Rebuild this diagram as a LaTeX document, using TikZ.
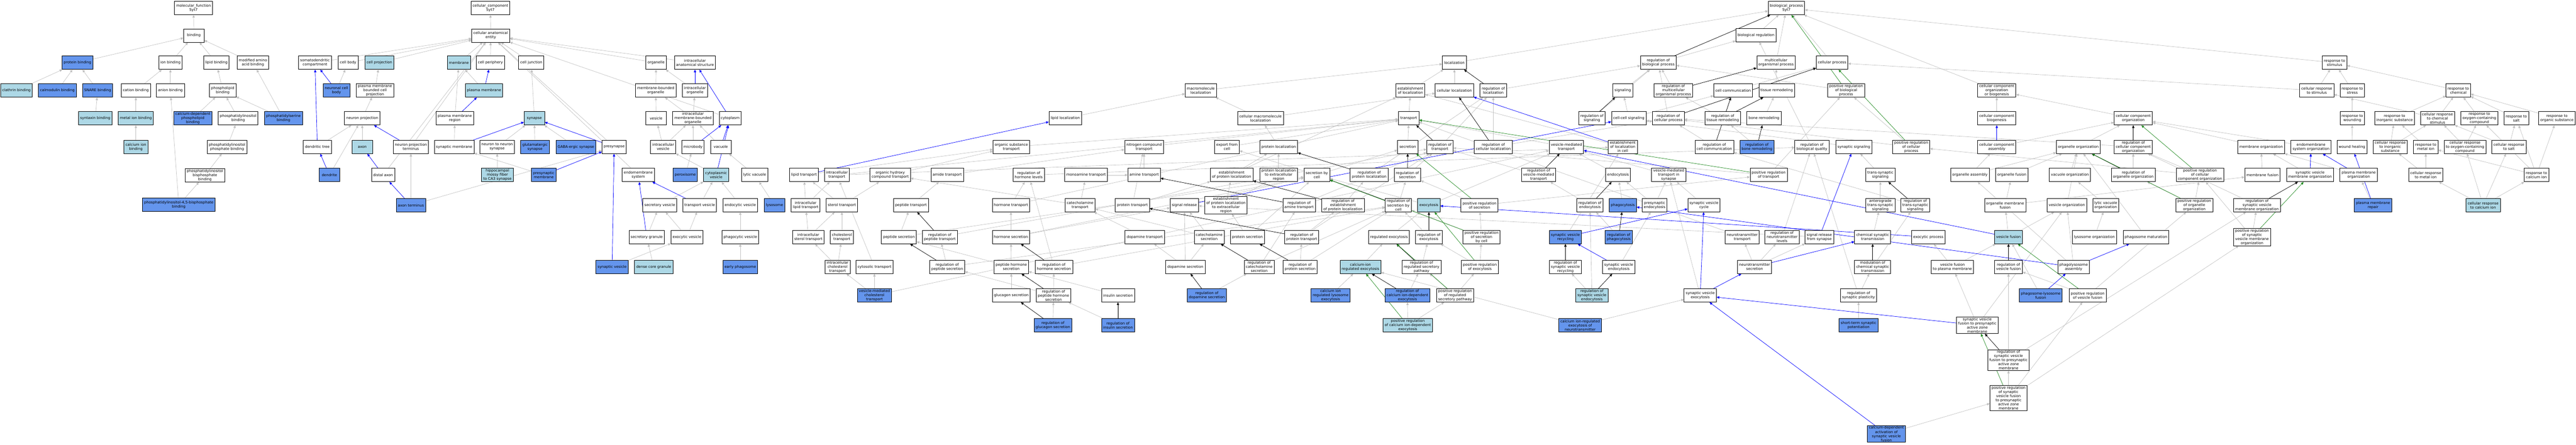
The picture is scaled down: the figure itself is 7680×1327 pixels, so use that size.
\documentclass[tikz,border=0pt]{standalone}
\usepackage{fontspec}
\setmainfont{DejaVu Sans}
\usetikzlibrary{arrows.meta}
\definecolor{cfb}{HTML}{6495ED}
\definecolor{lbl}{HTML}{ADD8E6}
\definecolor{egr}{HTML}{C0C0C0}
\definecolor{fgr}{HTML}{228B22}
\pgfdeclarelayer{bgzero}
\pgfdeclarelayer{edgelayer}
\pgfsetlayers{bgzero,edgelayer,main}
\tikzset{
 bw/.style={draw=black, line width=0.6pt, rectangle, align=center, fill=white,
   font=\fontsize{5.4pt}{6.2pt}\selectfont, inner xsep=2.5pt, inner ysep=1pt,
   minimum width=30.5pt, minimum height=20pt},
 bd/.style={bw, fill=cfb},
 bl/.style={bw, fill=lbl},
 eg/.style={draw=egr, line width=0.5pt, -{Triangle[length=4pt,width=3.6pt]}},
 eb/.style={eg, draw=blue, fill=blue},
 ek/.style={eg, draw=black, fill=black},
 ev/.style={eg, draw=fgr, fill=fgr}
}
\begin{document}
\begin{tikzpicture}[x=0.5pt,y=-0.5pt]
\useasboundingbox (0,0) rectangle (7680,1327);
\begin{pgfonlayer}{bgzero}
\fill[white] (0,0) rectangle (7680,1327);
\end{pgfonlayer}
% ---------------- molecular function
\node[bw] (mf) at (577,24) {molecular\_function\\Syt7};
\node[bw] (bind) at (578,106) {binding};
\node[bd] (protb) at (231,187) {protein binding};
\node[bw] (ionb) at (508,187) {ion binding};
\node[bw] (lipb) at (645,187) {lipid binding};
\node[bw] (modaa) at (754,187) {modified amino\\acid binding};
\node[bl] (clath) at (49,270) {clathrin binding};
\node[bd] (calmod) at (171,270) {calmodulin binding};
\node[bd] (snare) at (291,270) {SNARE binding};
\node[bw] (cation) at (405,270) {cation binding};
\node[bw] (anion) at (508,270) {anion binding};
\node[bw] (phlip) at (664,270) {phospholipid\\binding};
\node[bl] (syntax) at (284,353) {syntaxin binding};
\node[bl] (metal) at (405,353) {metal ion binding};
\node[bd] (cadpl) at (575,353) {calcium-dependent\\phospholipid\\binding};
\node[bw] (pib) at (710,353) {phosphatidylinositol\\binding};
\node[bd] (psb) at (845,353) {phosphatidylserine\\binding};
\node[bl] (caion) at (405,438) {calcium ion\\binding};
\node[bw] (pipb) at (677,438) {phosphatidylinositol\\phosphate binding};
\node[bw] (pibpb) at (611,523) {phosphatidylinositol\\bisphosphate\\binding};
\node[bd] (pip2) at (533,611) {phosphatidylinositol-4,5-bisphosphate\\binding};
% ---------------- cellular component
\node[bw] (cc) at (1462,24) {cellular\_component\\Syt7};
\node[bw] (cae) at (1463,106) {cellular anatomical\\entity};
\node[bw] (somat) at (939,187) {somatodendritic\\compartment};
\node[bw] (cbody) at (1038,187) {cell body};
\node[bl] (cproj) at (1131,187) {cell projection};
\node[bl] (memb) at (1368,187) {membrane};
\node[bw] (cperi) at (1462,187) {cell periphery};
\node[bw] (cjunc) at (1584,187) {cell junction};
\node[bw] (organelle) at (1956,187) {organelle};
\node[bw] (ias) at (2072,187) {intracellular\\anatomical structure};
\node[bd] (ncb) at (1003,270) {neuronal cell\\body};
\node[bw] (pmbcp) at (1118,270) {plasma membrane\\bounded cell\\projection};
\node[bl] (pm) at (1443,270) {plasma membrane};
\node[bw] (mbo) at (1955,270) {membrane-bounded\\organelle};
\node[bw] (io) at (2072,270) {intracellular\\organelle};
\node[bw] (nproj) at (1080,353) {neuron projection};
\node[bw] (pmr) at (1356,353) {plasma membrane\\region};
\node[bl] (synapse) at (1593,353) {synapse};
\node[bw] (vesicle) at (1956,353) {vesicle};
\node[bw] (imbo) at (2066,353) {intracellular\\membrane-bounded\\organelle};
\node[bw] (cyto) at (2177,353) {cytoplasm};
\node[bw] (dtree) at (946,438) {dendritic tree};
\node[bl] (axon) at (1080,438) {axon};
\node[bw] (npt) at (1225,438) {neuron projection\\terminus};
\node[bw] (synm) at (1354,438) {synaptic membrane};
\node[bw] (n2n) at (1482,438) {neuron to neuron\\synapse};
\node[bd] (glut) at (1595,438) {glutamatergic\\synapse};
\node[bd] (gaba) at (1717,438) {GABA-ergic synapse};
\node[bw] (presyn) at (1831,438) {presynapse};
\node[bw] (iv) at (1977,438) {intracellular\\vesicle};
\node[bw] (microbody) at (2066,438) {microbody};
\node[bw] (vacuole) at (2149,438) {vacuole};
\node[bd] (dendrite) at (982,522) {dendrite};
\node[bw] (daxon) at (1142,522) {distal axon};
\node[bl] (mossy) at (1483,522) {hippocampal\\mossy fiber\\to CA3 synapse};
\node[bd] (presm) at (1621,522) {presynaptic\\membrane};
\node[bw] (endos) at (1903,522) {endomembrane\\system};
\node[bd] (perox) at (2043,522) {peroxisome};
\node[bl] (cytv) at (2135,522) {cytoplasmic\\vesicle};
\node[bw] (lytvac) at (2250,522) {lytic vacuole};
\node[bd] (axterm) at (1225,612) {axon terminus};
\node[bw] (secv) at (1967,612) {secretory vesicle};
\node[bw] (transv) at (2086,612) {transport vesicle};
\node[bw] (endov) at (2207,612) {endocytic vesicle};
\node[bd] (lysosome) at (2309,612) {lysosome};
\node[bw] (secg) at (1928,707) {secretory granule};
\node[bw] (exov) at (2048,707) {exocytic vesicle};
\node[bw] (phagv) at (2207,707) {phagocytic vesicle};
\node[bd] (synv) at (1825,796) {synaptic vesicle};
\node[bl] (dcg) at (1949,796) {dense core granule};
\node[bd] (earlyp) at (2207,796) {early phagosome};
% ---------------- transport region
\node[bw] (lipt) at (2397,522) {lipid transport};
\node[bw] (ict) at (2495,522) {intracellular\\transport};
\node[bw] (iclt) at (2402,612) {intracellular\\lipid transport};
\node[bw] (sterolt) at (2510,612) {sterol transport};
\node[bw] (icst) at (2410,707) {intracellular\\sterol transport};
\node[bw] (cholt) at (2510,707) {cholesterol\\transport};
\node[bw] (iccht) at (2497,796) {intracellular\\cholesterol\\transport};
\node[bw] (cytt) at (2607,796) {cytosolic transport};
\node[bd] (vmct) at (2607,881) {vesicle-mediated\\cholesterol\\transport};
\node[bw] (lipl) at (3176,353) {lipid localization};
\node[bw] (ost) at (3015,438) {organic substance\\transport};
\node[bw] (ohct) at (2654,522) {organic hydroxy\\compound transport};
\node[bw] (amidet) at (2824,522) {amide transport};
\node[bw] (rhl) at (3067,522) {regulation of\\hormone levels};
\node[bw] (monot) at (3238,522) {monoamine transport};
\node[bw] (peptt) at (2716,612) {peptide transport};
\node[bw] (hormt) at (3014,612) {hormone transport};
\node[bw] (catt) at (3220,612) {catecholamine\\transport};
\node[bw] (pepts) at (2680,707) {peptide secretion};
\node[bw] (rpt) at (2802,707) {regulation of\\peptide transport};
\node[bw] (horms) at (3014,707) {hormone secretion};
\node[bw] (rps) at (2824,796) {regulation of\\peptide secretion};
\node[bw] (phs) at (3015,796) {peptide hormone\\secretion};
\node[bw] (rhs) at (3142,796) {regulation of\\hormone secretion};
\node[bw] (glucs) at (3015,881) {glucagon secretion};
\node[bw] (rphs) at (3141,881) {regulation of\\peptide hormone\\secretion};
\node[bd] (rglucs) at (3139,970) {regulation of\\glucagon secretion};
\node[bw] (macl) at (3580,270) {macromolecule\\localization};
\node[bw] (cmacl) at (3758,353) {cellular macromolecule\\localization};
\node[bw] (nct) at (3411,438) {nitrogen compound\\transport};
\node[bw] (expc) at (3658,438) {export from\\cell};
\node[bw] (protl) at (3812,438) {protein localization};
\node[bw] (amt) at (3411,522) {amine transport};
\node[bw] (epl) at (3672,522) {establishment\\of protein localization};
\node[bw] (pler) at (3812,522) {protein localization\\to extracellular\\region};
\node[bw] (prott) at (3376,612) {protein transport};
\node[bw] (sigrel) at (3531,612) {signal release};
\node[bw] (eper) at (3655,612) {establishment\\of protein localization\\to extracellular\\region};
\node[bw] (ramt) at (3873,612) {regulation of\\amine transport};
\node[bw] (dopt) at (3413,707) {dopamine transport};
\node[bw] (cats) at (3605,707) {catecholamine\\secretion};
\node[bw] (prots) at (3719,707) {protein secretion};
\node[bw] (rprott) at (3881,707) {regulation of\\protein transport};
\node[bw] (dops) at (3534,796) {dopamine secretion};
\node[bw] (rcats) at (3754,796) {regulation of\\catecholamine\\secretion};
\node[bw] (rprots) at (3876,796) {regulation of\\protein secretion};
\node[bw] (inss) at (3333,881) {insulin secretion};
\node[bd] (rdops) at (3598,881) {regulation of\\dopamine secretion};
\node[bd] (rinss) at (3333,970) {regulation of\\insulin secretion};
\node[bw] (loc) at (4336,187) {localization};
\node[bw] (estl) at (4205,270) {establishment\\of localization};
\node[bw] (cloc) at (4336,270) {cellular localization};
\node[bw] (rloc) at (4452,270) {regulation of\\localization};
\node[bw] (transport) at (4200,353) {transport};
\node[bw] (secretion) at (4197,438) {secretion};
\node[bw] (rtrans) at (4293,438) {regulation of\\transport};
\node[bw] (rcloc) at (4452,438) {regulation of\\cellular localization};
\node[bw] (secbc) at (3926,522) {secretion by\\cell};
\node[bw] (rprotl) at (4082,522) {regulation of\\protein localization};
\node[bw] (rsec) at (4196,522) {regulation of\\secretion};
\node[bw] (repl) at (4004,612) {regulation of\\establishment\\of protein localization};
\node[bw] (rsecbc) at (4169,612) {regulation of\\secretion by\\cell};
\node[bl] (exocytosis) at (4260,612) {exocytosis};
\node[bw] (prsec) at (4411,612) {positive regulation\\of secretion};
\node[bw] (regexo) at (4141,707) {regulated exocytosis};
\node[bw] (rexo) at (4260,707) {regulation of\\exocytosis};
\node[bw] (prsecbc) at (4417,707) {positive regulation\\of secretion\\by cell};
\node[bl] (caexo) at (4056,796) {calcium-ion\\regulated exocytosis};
\node[bw] (rrsp) at (4238,796) {regulation of\\regulated secretory\\pathway};
\node[bw] (prexo) at (4412,796) {positive regulation\\of exocytosis};
\node[bd] (calyso) at (3967,881) {calcium ion\\regulated lysosome\\exocytosis};
\node[bd] (rcade) at (4196,881) {regulation of\\calcium ion-dependent\\exocytosis};
\node[bw] (prrsp) at (4338,881) {positive regulation\\of regulated\\secretory pathway};
\node[bl] (prcade) at (4197,970) {positive regulation\\of calcium ion-dependent\\exocytosis};
% ---------------- signaling etc
\node[bw] (rbp) at (4944,187) {regulation of\\biological process};
\node[bw] (signaling) at (4838,270) {signaling};
\node[bw] (rmop) at (4989,270) {regulation of\\multicellular\\organismal process};
\node[bw] (ccomm) at (5167,270) {cell communication};
\node[bw] (rsig) at (4746,353) {regulation of\\signaling};
\node[bw] (ccsig) at (4856,353) {cell-cell signaling};
\node[bw] (rcp) at (4974,353) {regulation of\\cellular process};
\node[bw] (rtr) at (5136,353) {regulation of\\tissue remodeling};
\node[bw] (vmt) at (4670,438) {vesicle-mediated\\transport};
\node[bw] (elc) at (4838,438) {establishment\\of localization\\in cell};
\node[bw] (rcc) at (5111,438) {regulation of\\cell communication};
\node[bw] (rvmt) at (4587,522) {regulation of\\vesicle-mediated\\transport};
\node[bw] (endocytosis) at (4824,522) {endocytosis};
\node[bw] (vmts) at (4975,522) {vesicle-mediated\\transport in\\synapse};
\node[bw] (rendo) at (4740,612) {regulation of\\endocytosis};
\node[bd] (phago) at (4838,612) {phagocytosis};
\node[bw] (pse) at (4933,612) {presynaptic\\endocytosis};
\node[bw] (svc) at (5080,612) {synaptic vesicle\\cycle};
\node[bd] (svr) at (4667,707) {synaptic vesicle\\recycling};
\node[bd] (rphago) at (4826,707) {regulation of\\phagocytosis};
\node[bw] (rsvr) at (4667,796) {regulation of\\synaptic vesicle\\recycling};
\node[bw] (sve) at (4826,796) {synaptic vesicle\\endocytosis};
\node[bl] (rsve) at (4746,881) {regulation of\\synaptic vesicle\\endocytosis};
\node[bw] (svexo) at (5069,881) {synaptic vesicle\\exocytosis};
\node[bd] (cirent) at (4711,970) {calcium ion-regulated\\exocytosis of\\neurotransmitter};
\node[bw] (bp) at (5326,24) {biological\_process\\Syt7};
\node[bw] (breg) at (5235,105) {biological regulation};
\node[bw] (mop) at (5295,187) {multicellular\\organismal process};
\node[bw] (cellp) at (5462,187) {cellular process};
\node[bw] (tissr) at (5297,270) {tissue remodeling};
\node[bw] (prbp) at (5504,270) {positive regulation\\of biological\\process};
\node[bw] (boner) at (5259,353) {bone remodeling};
\node[bd] (rboner) at (5238,438) {regulation of\\bone remodeling};
\node[bw] (rbq) at (5402,438) {regulation of\\biological quality};
\node[bw] (synsig) at (5527,438) {synaptic signaling};
\node[bw] (prcp) at (5698,438) {positive regulation\\of cellular\\process};
\node[bw] (prtrans) at (5273,522) {positive regulation\\of transport};
\node[bw] (tss) at (5606,522) {trans-synaptic\\signaling};
\node[bw] (atss) at (5606,612) {anterograde\\trans-synaptic\\signaling};
\node[bw] (rtss) at (5710,612) {regulation of\\trans-synaptic\\signaling};
\node[bw] (ntt) at (5194,707) {neurotransmitter\\transport};
\node[bw] (rntl) at (5313,707) {regulation of\\neurotransmitter\\levels};
\node[bw] (srfs) at (5424,707) {signal release\\from synapse};
\node[bw] (cst) at (5583,707) {chemical synaptic\\transmission};
\node[bw] (exop) at (5749,707) {exocytic process};
\node[bw] (nts) at (5231,796) {neurotransmitter\\secretion};
\node[bw] (mcst) at (5583,796) {modulation of\\chemical synaptic\\transmission};
\node[bw] (rsp) at (5541,881) {regulation of\\synaptic plasticity};
\node[bd] (stsp) at (5541,970) {short-term synaptic\\potentiation};
\node[bd] (cdasvf) at (5624,1294) {calcium-dependent\\activation of\\synaptic vesicle\\fusion};
% ---------------- organization
\node[bw] (ccoob) at (5953,270) {cellular component\\organization\\or biogenesis};
\node[bw] (ccb) at (5953,353) {cellular component\\biogenesis};
\node[bw] (cco) at (6360,353) {cellular component\\organization};
\node[bw] (cca) at (5953,438) {cellular component\\assembly};
\node[bw] (oo) at (6196,438) {organelle organization};
\node[bw] (rcco) at (6360,438) {regulation of\\cellular component\\organization};
\node[bw] (oa) at (5873,522) {organelle assembly};
\node[bw] (ofus) at (5998,522) {organelle fusion};
\node[bw] (vo) at (6171,522) {vacuole organization};
\node[bw] (roo) at (6360,522) {regulation of\\organelle organization};
\node[bw] (omf) at (5978,612) {organelle membrane\\fusion};
\node[bw] (vesorg) at (6162,612) {vesicle organization};
\node[bw] (lvo) at (6278,612) {lytic vacuole\\organization};
\node[bl] (vf) at (5988,707) {vesicle fusion};
\node[bw] (lyso) at (6244,707) {lysosome organization};
\node[bw] (phm) at (6398,707) {phagosome maturation};
\node[bw] (vfpm) at (5821,796) {vesicle fusion\\to plasma membrane};
\node[bw] (rvf) at (5988,796) {regulation of\\vesicle fusion};
\node[bw] (pla) at (6182,796) {phagolysosome\\assembly};
\node[bd] (plf) at (6084,881) {phagosome-lysosome\\fusion};
\node[bw] (prvf) at (6224,881) {positive regulation\\of vesicle fusion};
\node[bw] (svf) at (5895,970) {synaptic vesicle\\fusion to presynaptic\\active zone\\membrane};
\node[bw] (rsvf) at (5988,1074) {regulation of\\synaptic vesicle\\fusion to presynaptic\\active zone\\membrane};
\node[bw] (prsvf) at (5988,1187) {positive regulation\\of synaptic\\vesicle fusion\\to presynaptic\\active zone\\membrane};
% ---------------- response
\node[bw] (rstim) at (6960,187) {response to\\stimulus};
\node[bw] (crstim) at (6907,270) {cellular response\\to stimulus};
\node[bw] (rstress) at (7013,270) {response to\\stress};
\node[bw] (rwound) at (7013,353) {response to\\wounding};
\node[bw] (memorg) at (6741,438) {membrane organization};
\node[bw] (eso) at (6890,438) {endomembrane\\system organization};
\node[bw] (wheal) at (7012,438) {wound healing};
\node[bw] (prcco) at (6559,522) {positive regulation\\of cellular\\component organization};
\node[bw] (memfus) at (6745,522) {membrane fusion};
\node[bw] (svmo) at (6887,522) {synaptic vesicle\\membrane organization};
\node[bw] (pmo) at (7032,522) {plasma membrane\\organization};
\node[bw] (proo) at (6542,612) {positive regulation\\of organelle\\organization};
\node[bw] (rsvmo) at (6729,612) {regulation of\\synaptic vesicle\\membrane organization};
\node[bd] (pmrep) at (7075,612) {plasma membrane\\repair};
\node[bw] (prsvmo) at (6714,707) {positive regulation\\of synaptic\\vesicle membrane\\organization};
\node[bw] (rchem) at (7329,270) {response to\\chemical};
\node[bw] (rinorg) at (7139,353) {response to\\inorganic substance};
\node[bw] (crchem) at (7267,353) {cellular response\\to chemical\\stimulus};
\node[bw] (roxy) at (7392,353) {response to\\oxygen-containing\\compound};
\node[bw] (rsalt) at (7502,353) {response to\\salt};
\node[bw] (rorg) at (7623,353) {response to\\organic substance};
\node[bw] (crinorg) at (7126,438) {cellular response\\to inorganic\\substance};
\node[bw] (rmetal) at (7232,438) {response to\\metal ion};
\node[bw] (croxy) at (7349,438) {cellular response\\to oxygen-containing\\compound};
\node[bw] (crsalt) at (7480,438) {cellular response\\to salt};
\node[bw] (crmetal) at (7232,522) {cellular response\\to metal ion};
\node[bw] (rcaion) at (7562,522) {response to\\calcium ion};
\node[bl] (crcaion) at (7403,612) {cellular response\\to calcium ion};
% ---------------- edges
\begin{pgfonlayer}{edgelayer}
\foreach \a/\b in {bind/mf, protb/bind, ionb/bind, lipb/bind, modaa/bind, clath/protb, calmod/protb, snare/protb, syntax/snare, cation/ionb, anion/ionb, metal/cation, caion/metal, phlip/lipb, cadpl/phlip, pib/phlip, psb/phlip, psb/modaa, pipb/pib, pibpb/pipb, pip2/pibpb, pip2/anion,
cae/cc, somat/cae, cbody/cae, cproj/cae, memb/cae, cperi/cae, cjunc/cae, organelle/cae, ias/cae, cyto/cae, presyn/cae, endos/cae, npt/cae, daxon/cae,
ncb/cbody, pmbcp/cproj, nproj/pmbcp, dtree/nproj, axon/nproj, dendrite/nproj, axterm/npt, axterm/presyn, pm/memb, pmr/memb, synapse/cjunc, synm/pmr, n2n/synapse, glut/synapse, gaba/synapse, mossy/n2n, presm/synm, synv/exov, mbo/organelle, io/organelle, vesicle/mbo, imbo/mbo, imbo/io, iv/vesicle, iv/imbo, microbody/imbo, vacuole/imbo, perox/microbody, cytv/iv, lytvac/vacuole, secv/cytv, transv/cytv, endov/cytv, lysosome/lytvac, secg/secv, exov/secv, exov/transv, phagv/endov, earlyp/phagv, dcg/secg,
lipt/ost, ict/transport, ict/elc, iclt/lipt, iclt/ict, sterolt/lipt, sterolt/ohct, icst/iclt, icst/sterolt, cholt/sterolt, iccht/icst, iccht/cholt, cytt/ict, vmct/iccht, vmct/cytt, vmct/vmt, lipl/macl, ost/transport, ohct/ost, amidet/nct, rhl/rbq, monot/amt, peptt/amidet, hormt/rhl, hormt/transport, catt/monot, catt/ohct, pepts/peptt, pepts/secbc, rpt/rtrans, horms/hormt, horms/sigrel, horms/secbc, rps/rpt, rps/rsecbc, phs/horms, phs/pepts, rhs/rhl, rhs/rsecbc, glucs/phs, rphs/rhs, rphs/rps, rglucs/rphs, macl/loc, cmacl/macl, cmacl/cloc, nct/transport, expc/transport, protl/cmacl, amt/nct, epl/protl, epl/estl, pler/protl, prott/nct, prott/epl, sigrel/secbc, eper/epl, eper/pler, ramt/rtrans, dopt/catt, cats/catt, cats/sigrel, prots/eper, prots/secbc, rprott/rtrans, rprott/repl, dops/dopt, dops/cats, dops/sigrel, rcats/rsecbc, rcats/ramt, rprots/rprott, rprots/rsecbc, inss/phs, rdops/rcats, rinss/rphs,
loc/bp, estl/loc, cloc/loc, rloc/rbp, transport/estl, secretion/transport, rtrans/rloc, rcloc/rloc, rcloc/rcp, secbc/secretion, secbc/expc, rprotl/rloc, rsec/rtrans, repl/rprotl, rsecbc/rsec, exocytosis/secbc, exocytosis/vmt, prsec/rsec, prsec/prtrans, regexo/exocytosis, rexo/rsecbc, prsecbc/prsec, prsecbc/rsecbc, caexo/regexo, rrsp/rexo, prexo/rexo, prexo/prsecbc, calyso/caexo, rcade/rrsp, prrsp/rrsp, prrsp/prexo, prcade/rcade, prcade/prrsp,
rbp/breg, signaling/rbp, rmop/rbp, ccomm/cellp, rsig/rbp, ccsig/signaling, ccsig/ccomm, rcp/rbp, rtr/rmop, vmt/transport, elc/estl, rcc/rcp, rvmt/rtrans, endocytosis/vmt, vmts/vmt, rendo/rvmt, phago/endocytosis, pse/endocytosis, pse/vmts, svc/vmts, svr/elc, rphago/rendo, sve/pse, rsve/rsvr, rsve/rendo, svexo/vmts, cirent/svexo, cirent/caexo,
breg/bp, mop/bp, cellp/bp, tissr/mop, prbp/rbp, boner/tissr, rboner/rtr, rbq/breg, synsig/ccsig, prcp/prbp, prcp/rcp, prtrans/rtrans, prtrans/prbp, tss/synsig, atss/tss, rtss/rcc, ntt/transport, rntl/rbq, srfs/sigrel, cst/atss, nts/ntt, nts/rntl, nts/srfs, mcst/rtss, rsp/mcst, rsp/rbq, stsp/rsp, cdasvf/prsvf,
ccoob/bp, ccb/ccoob, cco/ccoob, cca/cco, oo/cco, rcco/rcp, oa/cca, oa/oo, ofus/oo, vo/oo, roo/rcco, omf/ofus, omf/memfus, vesorg/oo, lvo/vo, vf/omf, vf/vesorg, lyso/lvo, phm/oo, vfpm/exop, vfpm/vf, pla/oa, pla/vesorg, plf/vf, prvf/rvf, prvf/proo, svf/vfpm, svf/vesorg, rsvf/rvf, rsvf/rsvmo, prsvf/rsvf, prsvf/prvf, prsvf/prsvmo,
rstim/bp, crstim/rstim, crstim/cellp, rstress/rstim, rwound/rstress, memorg/cco, eso/cco, wheal/rwound, prcco/rcco, prcco/prcp, memfus/memorg, svmo/memorg, pmo/memorg, proo/prcco, proo/roo, rsvmo/rcco, pmrep/pmo, prsvmo/rsvmo, prsvmo/prcco,
rchem/rstim, rinorg/rchem, crchem/rchem, crchem/crstim, roxy/rchem, rsalt/rchem, rorg/rchem, crinorg/rinorg, crinorg/crchem, rmetal/rinorg, croxy/crchem, croxy/roxy, crsalt/rsalt, crsalt/crchem, crmetal/rmetal, crmetal/crinorg, rcaion/rmetal, rcaion/rsalt, rcaion/rorg, rcaion/roxy, crcaion/crmetal, crcaion/croxy, crcaion/crsalt, crcaion/rcaion}
  \draw[eg] (\a) -- (\b);
\foreach \a/\b in {ncb/somat, dtree/somat, npt/nproj, dendrite/dtree, daxon/axon, axterm/daxon, pm/cperi, pmr/pm, synm/synapse, presyn/synapse, presm/presyn, synv/presyn, io/ias, cyto/ias, microbody/cyto, vacuole/cyto, cytv/cyto, transv/endos, secg/endos, lipt/lipl, elc/cloc, sigrel/ccsig, svr/svc, sve/svr, svexo/svc, svexo/nts, srfs/synsig, nts/cst, exop/exocytosis, cdasvf/svexo, cca/ccb, vf/vmt, pla/phm, pla/phago, plf/pla, svf/svexo, svmo/eso, pmo/eso, pmrep/wheal}
  \draw[eb] (\a) -- (\b);
\foreach \a/\b in {rpt/peptt, rps/pepts, rhs/horms, rphs/phs, rglucs/glucs, ramt/amt, rprott/prott, rcats/cats, rprots/prots, rdops/dops, rinss/inss, rloc/loc, rtrans/transport, rcloc/cloc, rprotl/protl, rsec/secretion, repl/epl, rsecbc/secbc, rexo/exocytosis, rrsp/regexo, rcade/caexo, rbp/bp, rmop/mop, rsig/signaling, rcp/cellp, rtr/tissr, rcc/ccomm, rvmt/vmt, rendo/endocytosis, rphago/phago, rsvr/svr, rsve/sve, rboner/boner, rtss/tss, mcst/cst, rcco/cco, roo/oo, rvf/vf, rsvf/svf, rsvmo/svmo}
  \draw[ek] (\a) -- (\b);
\foreach \a/\b in {prsec/secretion, prsecbc/secbc, prexo/exocytosis, prrsp/regexo, prcade/caexo, prbp/bp, prcp/cellp, prtrans/transport, prvf/vf, prsvf/svf, prcco/cco, proo/oo, prsvmo/svmo}
  \draw[ev] (\a) -- (\b);
\end{pgfonlayer}
\end{tikzpicture}
\end{document}
